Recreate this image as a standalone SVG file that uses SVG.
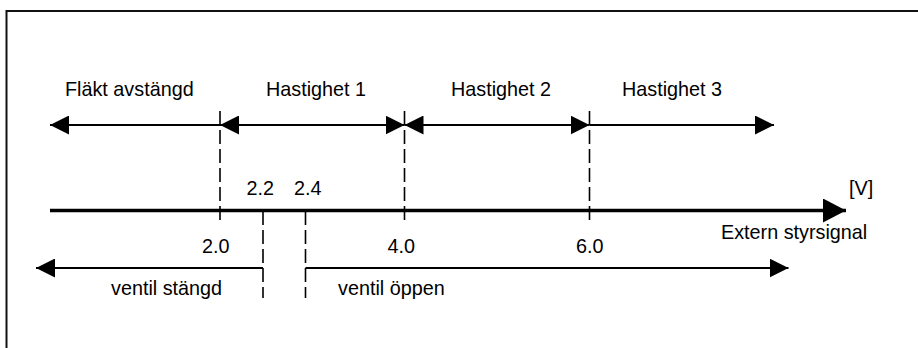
<svg xmlns="http://www.w3.org/2000/svg" width="918" height="348" viewBox="0 0 918 348">
  <defs>
    <marker id="head" viewBox="0 0 19 19" refX="19" refY="9.5" markerWidth="19" markerHeight="19" markerUnits="userSpaceOnUse" orient="auto-start-reverse">
      <path d="M0,0 L19,9.5 L0,19 Z" fill="#000"/>
    </marker>
    <marker id="axisHead" viewBox="0 0 23 24" refX="23" refY="12" markerWidth="23" markerHeight="24" markerUnits="userSpaceOnUse" orient="auto">
      <path d="M0,0 L23,12 L0,24 Z" fill="#000"/>
    </marker>
  </defs>
  <style>
    text { font-family: "Liberation Sans", Arial, sans-serif; font-size: 19.8px; fill: #000; }
    .frame { stroke: #111; stroke-width: 2; fill: none; }
    .range { stroke: #000; stroke-width: 2; fill: none; }
    .dash { stroke: #000; stroke-width: 1.6; stroke-dasharray: 14 5; fill: none; }
    .axis { stroke: #000; stroke-width: 3.5; fill: none; }
  </style>

  <rect width="918" height="348" fill="#fff"/>

  <!-- open frame: top and left edges only -->
  <path class="frame" d="M6.5,348 V11 H918"/>

  <g id="connectors">
    <!-- threshold markers -->
    <line class="dash" x1="220" y1="111" x2="220" y2="225"/>
    <line class="dash" x1="404.5" y1="111" x2="404.5" y2="225"/>
    <line class="dash" x1="589.5" y1="111" x2="589.5" y2="225"/>
    <line class="dash" x1="263" y1="211" x2="263" y2="298"/>
    <line class="dash" x1="305.5" y1="211" x2="305.5" y2="298"/>

    <!-- fan speed ranges -->
    <line class="range" x1="220" y1="125" x2="50" y2="125" marker-end="url(#head)"/>
    <line class="range" x1="220" y1="125" x2="404.5" y2="125" marker-start="url(#head)" marker-end="url(#head)"/>
    <line class="range" x1="404.5" y1="125" x2="589.5" y2="125" marker-start="url(#head)" marker-end="url(#head)"/>
    <line class="range" x1="589.5" y1="125" x2="774" y2="125" marker-end="url(#head)"/>

    <!-- control signal axis -->
    <line class="axis" x1="50" y1="210.5" x2="846" y2="210.5" marker-end="url(#axisHead)"/>

    <!-- valve ranges -->
    <line class="range" x1="263" y1="268" x2="36" y2="268" marker-end="url(#head)"/>
    <line class="range" x1="305.5" y1="268" x2="788.5" y2="268" marker-end="url(#head)"/>
  </g>

  <g id="label-flakt-avstangd"><text x="65" y="96">Fläkt avstängd</text></g>
  <g id="label-hastighet-1"><text x="266" y="96">Hastighet 1</text></g>
  <g id="label-hastighet-2"><text x="451" y="96">Hastighet 2</text></g>
  <g id="label-hastighet-3"><text x="622" y="96">Hastighet 3</text></g>

  <g id="tick-2-2"><text x="246.5" y="195">2.2</text></g>
  <g id="tick-2-4"><text x="294" y="195">2.4</text></g>
  <g id="tick-2-0"><text x="202" y="253">2.0</text></g>
  <g id="tick-4-0"><text x="387.5" y="253">4.0</text></g>
  <g id="tick-6-0"><text x="576" y="253">6.0</text></g>

  <g id="axis-unit"><text x="849" y="195">[V]</text></g>
  <g id="axis-title"><text x="721" y="238.5">Extern styrsignal</text></g>

  <g id="label-ventil-stangd"><text x="111" y="294.5">ventil stängd</text></g>
  <g id="label-ventil-oppen"><text x="338" y="294.5">ventil öppen</text></g>
</svg>
